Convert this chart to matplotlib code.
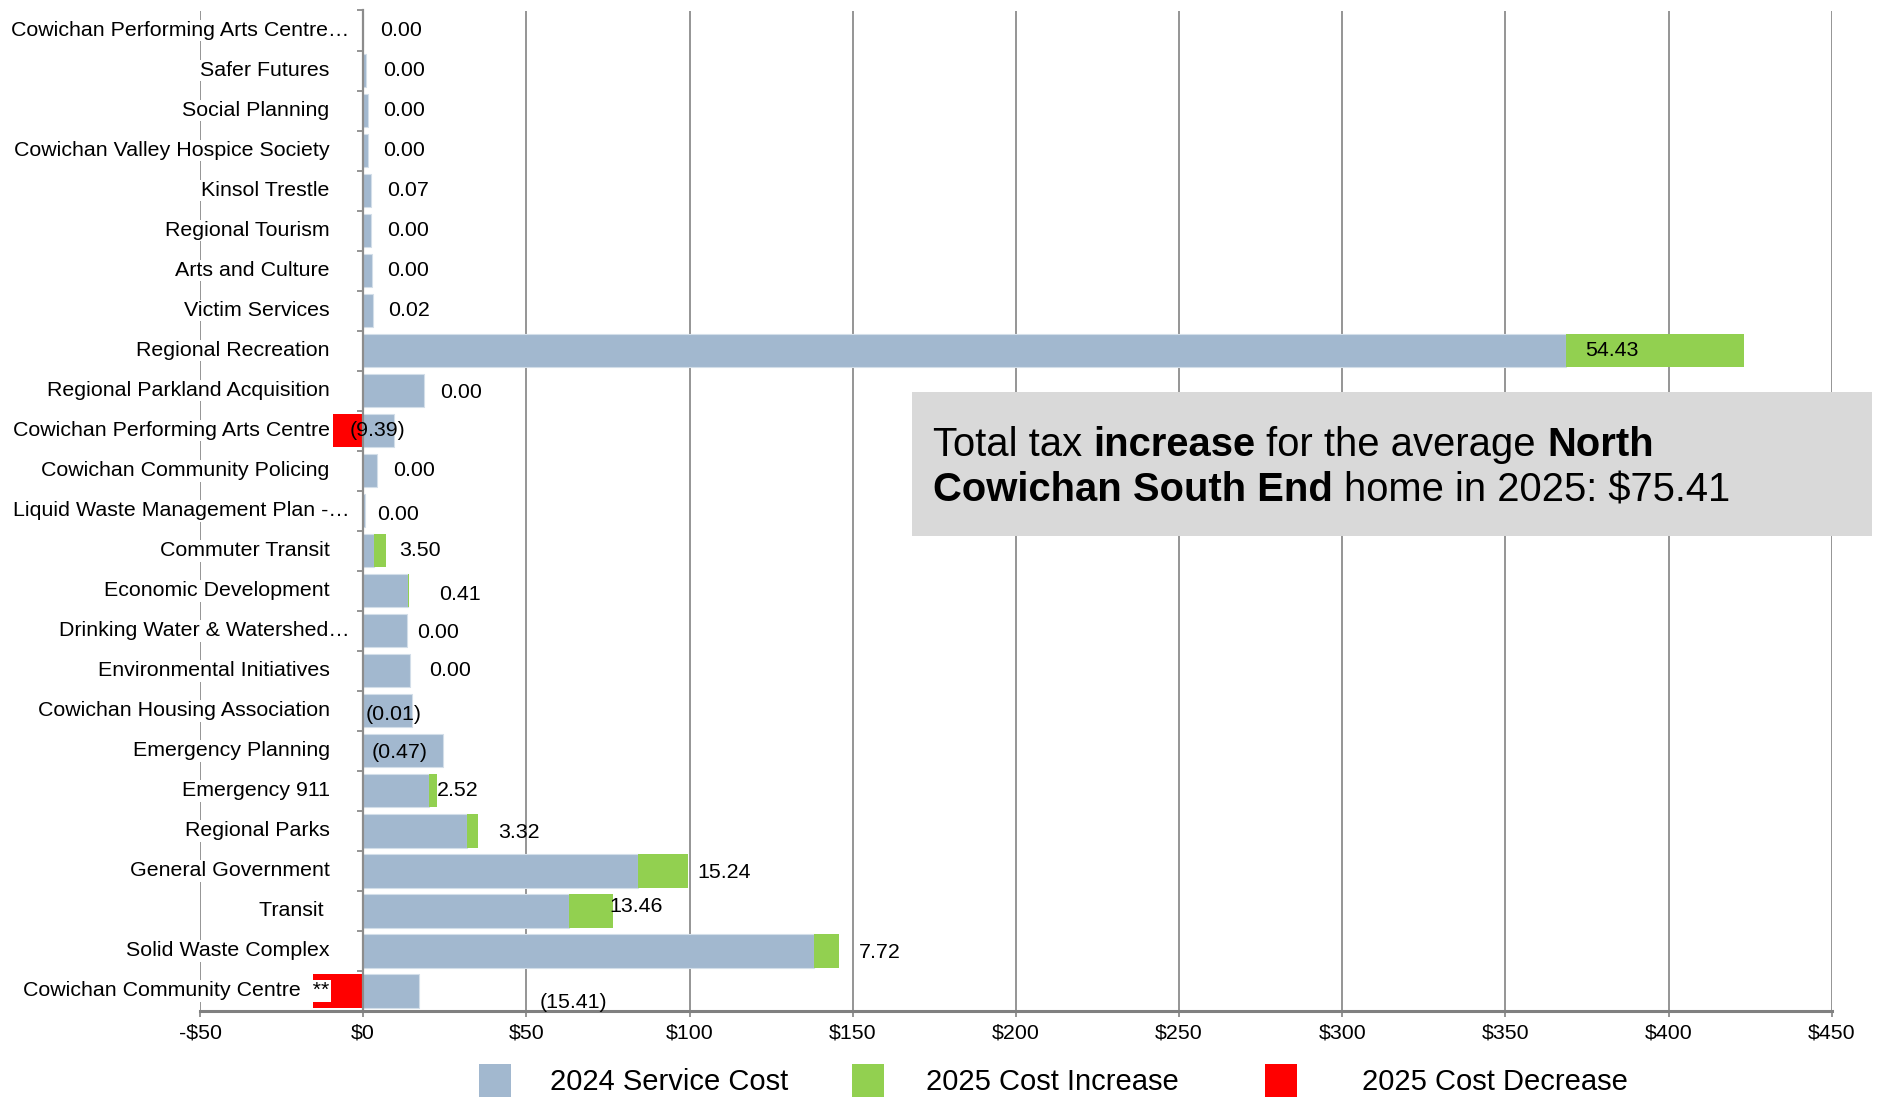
import numpy as np
import matplotlib
matplotlib.use("Agg")
import matplotlib.pyplot as plt
from matplotlib.patches import Rectangle
from matplotlib.transforms import offset_copy

plt.rcParams['font.family'] = ['Liberation Sans', 'DejaVu Sans']

# ---------------- data ----------------
categories = [
    "Cowichan Performing Arts Centre…",
    "Safer Futures",
    "Social Planning",
    "Cowichan Valley Hospice Society",
    "Kinsol Trestle",
    "Regional Tourism",
    "Arts and Culture",
    "Victim Services",
    "Regional Recreation",
    "Regional Parkland Acquisition",
    "Cowichan Performing Arts Centre",
    "Cowichan Community Policing",
    "Liquid Waste Management Plan -…",
    "Commuter Transit",
    "Economic Development",
    "Drinking Water & Watershed…",
    "Environmental Initiatives",
    "Cowichan Housing Association",
    "Emergency Planning",
    "Emergency 911",
    "Regional Parks",
    "General Government",
    "Transit ",
    "Solid Waste Complex",
    "Cowichan Community Centre  **",
]
service_2024 = [0.0, 1.0, 1.5, 1.6, 2.4, 2.4, 2.7, 2.9, 368.7, 18.7, 9.5, 4.3, 0.7,
                3.4, 13.65, 13.5, 14.3, 15.0, 24.5, 20.2, 31.9, 84.2, 63.0, 138.1, 17.1]
change_2025 = [0.00, 0.00, 0.00, 0.00, 0.07, 0.00, 0.00, 0.02, 54.43, 0.00, -9.39, 0.00, 0.00,
               3.50, 0.41, 0.00, 0.00, -0.01, -0.47, 2.52, 3.32, 15.24, 13.46, 7.72, -15.41]
xtick_values = [-50, 0, 50, 100, 150, 200, 250, 300, 350, 400, 450]
xtick_labels = ["-$50", "$0", "$50", "$100", "$150", "$200", "$250", "$300", "$350", "$400", "$450"]
series_names = ["2024 Service Cost", "2025 Cost Increase", "2025 Cost Decrease"]

# label placement tweaks (offset from bar end, in data units / rows)
label_offset = [5.1, 5.25, 4.75, 4.65, 4.88, 4.95, 4.65, 4.78, -48.7, 5.0, -13.5, 5.0, 3.5,
                4.2, 9.3, 3.05, 5.95, -14.1, -22.0, 0.0, 6.1, 3.0, -1.0, 6.2, 36.9]
label_dy = [0, 0, 0, 0, 0, 0, 0, 0, 0, 0.05, 0, 0, 0.1,
            0, 0.1, 0.03, 0, 0.1, 0.05, 0, 0.03, 0.05, -0.1, 0.03, 0.28]

# ---------------- style ----------------
BLUE = "#A2B8CF"
GREEN = "#92D050"
RED = "#FF0000"
GRID = "#8C8C8C"
W, H = 1879, 1097
FS = 15.4

fig = plt.figure(figsize=(W / 100, H / 100), dpi=100)
ax = fig.add_axes([200 / W, 1 - 1011 / H, (1831.7 - 200) / W, (1011 - 10.5) / H])

n = len(categories)
y = np.arange(n)
service = np.array(service_2024)
change = np.array(change_2025)
inc = np.clip(change, 0, None)
dec = np.clip(change, None, 0)

ax.barh(y, service, height=0.83, color=BLUE, edgecolor="#D3DEE9", linewidth=0.8, zorder=2)
ax.barh(y, inc, left=service, height=0.83, color=GREEN, edgecolor="none", zorder=2)
ax.barh(y, dec, height=0.83, color=RED, edgecolor="none", zorder=2)

for t in xtick_values:
    ax.axvline(t, color=GRID, lw=1.3, zorder=0.5)

ax.set_xlim(-50, 450)
ax.set_ylim(n - 0.5, -0.5)

for s in ("top", "right"):
    ax.spines[s].set_visible(False)
ax.spines["left"].set_position(("data", 0))
ax.spines["left"].set_color(GRID)
ax.spines["left"].set_linewidth(1.6)
ax.spines["bottom"].set_color("#808080")
ax.spines["bottom"].set_linewidth(2.2)

ax.set_yticks([])
ax.set_yticks(np.arange(n + 1) - 0.5, minor=True)
ax.tick_params(axis="y", which="minor", length=4, color=GRID, width=1.3, direction="out")
ax.set_xticks(xtick_values)
ax.set_xticklabels(xtick_labels, fontsize=FS)
ax.tick_params(axis="x", length=4, color=GRID, width=1.3, pad=5)

# category labels (drawn over plot area with white background)
for i, name in enumerate(categories):
    dx = 13.5 if name.endswith("…") else 33.5
    tr = offset_copy(ax.transData, fig=fig, x=-dx, y=0, units="dots")
    ax.text(0, i, name, transform=tr, ha="right", va="center", fontsize=FS,
            bbox=dict(fc="white", ec="none", pad=1), zorder=4, clip_on=False)

# value labels
for i in range(n):
    end = service[i] + inc[i]
    v = change[i]
    lab = f"{v:.2f}" if v >= 0 else f"({-v:.2f})"
    ax.text(end + label_offset[i], i + label_dy[i], lab, ha="left", va="center",
            fontsize=FS, zorder=5)

# legend (drawn manually to match the original entry spacing)
legend_colors = [BLUE, GREEN, RED]
legend_square_x = [479.5, 851.6, 1264.6]
legend_text_x = [549.6, 926.0, 1362.0]
for col, sx, tx, name in zip(legend_colors, legend_square_x, legend_text_x, series_names):
    fig.add_artist(Rectangle((sx / W, 0), 32 / W, 33 / H, transform=fig.transFigure,
                             fc=col, ec="none"))
    fig.text(tx / W, 1 - 1082 / H, name, fontsize=21, ha="left", va="center")

# summary box
fig.add_artist(Rectangle((912 / W, 1 - 535.7 / H), 960 / W, 143.7 / H,
                         transform=fig.transFigure, fc="#D9D9D9", ec="none", zorder=10))
renderer = fig.canvas.get_renderer()
fs = 28.8
space_px = 0.278 * fs * 100 / 72
lines = [
    (456, [("Total tax", "normal"), ("increase", "bold"), ("for the average", "normal"),
           ("North", "bold")]),
    (501, [("Cowichan South End", "bold"), ("home in 2025: \\$75.41", "normal")]),
]
for yb, runs in lines:
    x = 933
    for k, (txt, wt) in enumerate(runs):
        t = fig.text(x / W, 1 - yb / H, txt, fontsize=fs, fontweight=wt,
                     ha="left", va="baseline", zorder=11)
        bb = t.get_window_extent(renderer)
        x = bb.x1 + space_px

fig.savefig("out.png", dpi=100)
